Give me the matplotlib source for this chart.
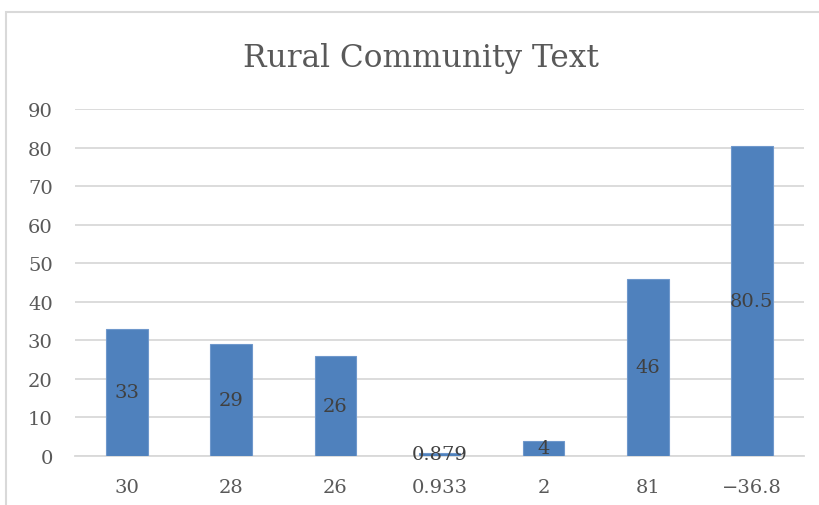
import numpy as np
import matplotlib.pyplot as plt
from matplotlib.patches import Rectangle

# Chart data
categories = ["30", "28", "26", "0.933", "2", "81", "\u221236.8"]
values = [33, 29, 26, 0.879, 4, 46, 80.5]
value_labels = ["33", "29", "26", "0.879", "4", "46", "80.5"]
y_ticks = [0, 10, 20, 30, 40, 50, 60, 70, 80, 90]

plt.rcParams['font.family'] = ['DejaVu Serif']

fig = plt.figure(figsize=(8.19, 5.06), dpi=100)
ax = fig.add_axes([75 / 819, 1 - 457 / 506, (804 - 75) / 819, (457 - 110) / 506])

x = np.arange(len(categories))
bars = ax.bar(x, values, width=0.40, color="#4f81bd", edgecolor="#6f98cc",
              linewidth=0.8, zorder=3)

# data labels centred in each bar
for xi, v, lab in zip(x, values, value_labels):
    ax.text(xi, v / 2, lab, ha="center", va="center", fontsize=14,
            color="#404040", zorder=4)

ax.set_xlim(-0.5, len(categories) - 0.5)
ax.set_ylim(0, 90)
ax.set_yticks(y_ticks)
ax.set_xticks(x)
ax.set_xticklabels(categories)
ax.tick_params(axis="both", length=0, labelsize=14, labelcolor="#595959")
ax.tick_params(axis="x", pad=16)
ax.tick_params(axis="y", pad=16)

ax.grid(axis="y", color="#d9d9d9", linewidth=1.3, zorder=0)
for side in ["top", "right", "left"]:
    ax.spines[side].set_visible(False)
ax.spines["bottom"].set_color("#d9d9d9")
ax.spines["bottom"].set_linewidth(1.3)

fig.text(421 / 819, 1 - 58 / 506, "Rural Community Text", ha="center",
         va="center", fontsize=22.5, color="#595959")

# chart area border (cut off on right and bottom)
fig.patches.append(Rectangle((6 / 819, -0.2), 1.2, 1.2 - 13 / 506,
                             transform=fig.transFigure, fill=False,
                             edgecolor="#d9d9d9", linewidth=1.5))

fig.savefig("out.png", dpi=100)
